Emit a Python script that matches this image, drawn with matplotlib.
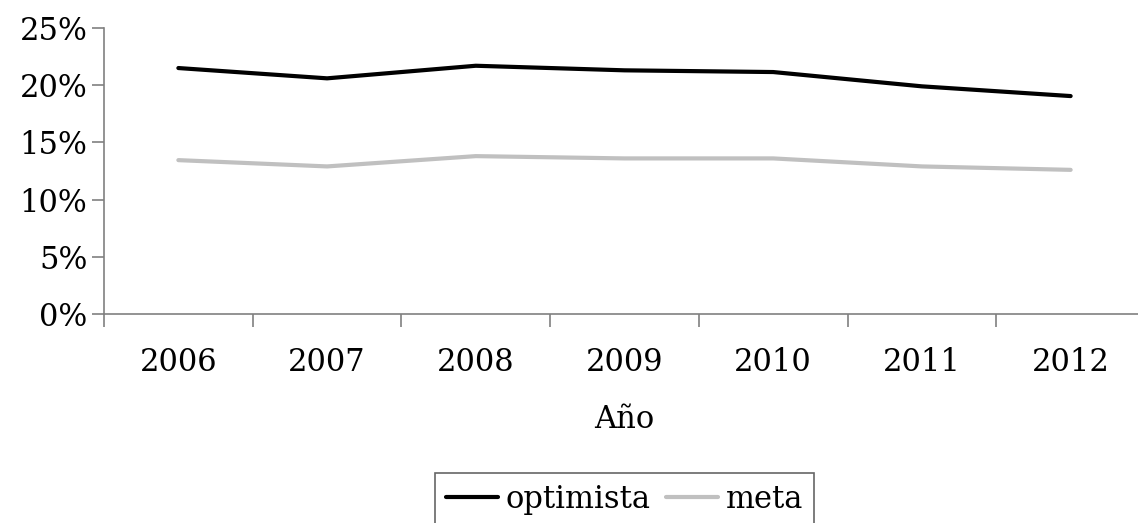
import matplotlib.pyplot as plt
from matplotlib.ticker import FuncFormatter, MultipleLocator

years = ["2006", "2007", "2008", "2009", "2010", "2011", "2012"]
optimista = [21.5, 20.6, 21.7, 21.3, 21.15, 19.9, 19.05]
meta = [13.45, 12.9, 13.8, 13.6, 13.6, 12.9, 12.6]

plt.rcParams["font.family"] = ["DejaVu Serif"]

fig = plt.figure(figsize=(11.38, 5.23), dpi=100)
ax = fig.add_axes([104 / 1138, 1 - 314 / 523, 1041 / 1138, 286 / 523])

x = range(len(years))
ax.plot(x, optimista, color="black", lw=3, label="optimista", solid_capstyle="round")
ax.plot(x, meta, color="#c0c0c0", lw=3, label="meta", solid_capstyle="round")

ax.set_xlim(-0.5, len(years) - 0.5)
ax.set_ylim(0, 25)
ax.yaxis.set_major_locator(MultipleLocator(5))
ax.yaxis.set_major_formatter(FuncFormatter(lambda v, _: f"{v:.0f}%"))

# category borders as major ticks, labels on minor ticks at centres
ax.set_xticks([i - 0.5 for i in range(len(years) + 1)])
ax.set_xticklabels([])
ax.set_xticks(list(x), minor=True)
ax.set_xticklabels(years, minor=True)
ax.tick_params(axis="x", which="major", length=9, width=1.2, color="#808080", direction="out")
ax.tick_params(axis="x", which="minor", length=0, pad=24, labelsize=22)
ax.tick_params(axis="y", length=9, width=1.2, color="#808080", direction="out", labelsize=22, pad=3)

for side in ["top", "right"]:
    ax.spines[side].set_visible(False)
for side in ["left", "bottom"]:
    ax.spines[side].set_color("#808080")
    ax.spines[side].set_linewidth(1.2)

ax.set_xlabel("Año", fontsize=22)
ax.xaxis.set_label_coords(0.5, -(404 - 314) / 286)
ax.xaxis.label.set_verticalalignment("top")

leg = ax.legend(loc="upper center", bbox_to_anchor=(0.5, -(473 - 314) / 286),
                ncol=2, fontsize=22, frameon=True, fancybox=False, handlelength=1.7,
                handletextpad=0.25, columnspacing=0.5, borderpad=0.35, borderaxespad=0)
leg.get_frame().set_edgecolor("#404040")
leg.get_frame().set_linewidth(1.2)

fig.savefig("out.png", dpi=100)
